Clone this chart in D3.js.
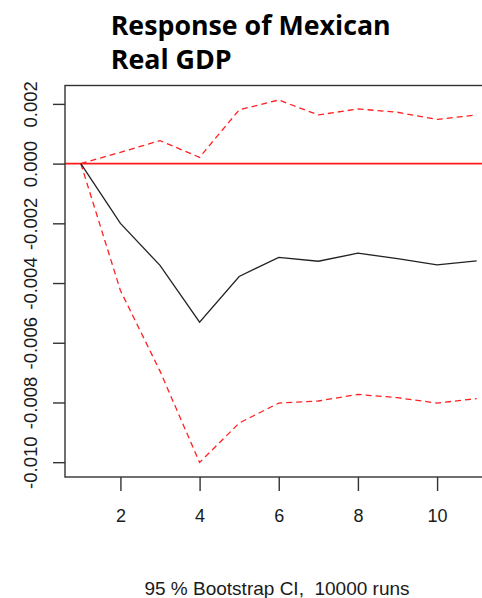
<!DOCTYPE html>
<html>
<head>
<meta charset="utf-8">
<script src="https://cdn.jsdelivr.net/npm/d3@7"></script>
<style>
  html, body { margin: 0; padding: 0; background: #fff; }
  svg { display: block; }
</style>
</head>
<body>
<div id="chart"></div>
<script>
// Impulse response horizon (periods)
const horizon = [1, 2, 3, 4, 5, 6, 7, 8, 9, 10, 11];
// Point estimate of the response
const response = [0, -0.00200, -0.00341, -0.00531, -0.00378, -0.00314, -0.00327, -0.00300, -0.00318, -0.00339, -0.00326];
// 95% bootstrap confidence bounds
const upperCI = [0, 0.00038, 0.00077, 0.00021, 0.00180, 0.00213, 0.00163, 0.00183, 0.00172, 0.00148, 0.00163];
const lowerCI = [0, -0.00425, -0.00695, -0.01001, -0.00869, -0.00802, -0.00795, -0.00773, -0.00784, -0.00802, -0.00787];
// Axis ticks
const xTicks = [2, 4, 6, 8, 10];
const yTicks = [0.002, 0.000, -0.002, -0.004, -0.006, -0.008, -0.010];

const titleLines = ["Response of Mexican", "Real GDP"];
const caption = "95 % Bootstrap CI,  10000 runs";

const W = 482, H = 598;
const svg = d3.select("#chart").append("svg")
  .attr("width", W).attr("height", H);

// Plot region (extends 4% beyond the data on each side)
const x = d3.scaleLinear().domain([0.6, 11.4]).range([65, 492.5]);
const y = d3.scaleLinear().domain([-0.010496, 0.002616]).range([477, 85.5]);

const plotLeft = x.range()[0], plotRight = x.range()[1];
const plotTop = y.range()[1], plotBottom = y.range()[0];

const axisColor = "#333";

// Zero reference line
svg.append("line")
  .attr("x1", plotLeft).attr("x2", plotRight)
  .attr("y1", y(0)).attr("y2", y(0))
  .attr("stroke", "#ff1a1a").attr("stroke-width", 1.6);

const line = d3.line().x((d, i) => x(horizon[i])).y(d => y(d));

// Confidence bounds
[upperCI, lowerCI].forEach(ci => {
  svg.append("path")
    .datum(ci)
    .attr("d", line)
    .attr("fill", "none")
    .attr("stroke", "#ff2020")
    .attr("stroke-width", 1.3)
    .attr("stroke-dasharray", "6,4");
});

// Point estimate
svg.append("path")
  .datum(response)
  .attr("d", line)
  .attr("fill", "none")
  .attr("stroke", "#222")
  .attr("stroke-width", 1.3);

// Plot frame
svg.append("rect")
  .attr("x", plotLeft).attr("y", plotTop)
  .attr("width", plotRight - plotLeft).attr("height", plotBottom - plotTop)
  .attr("fill", "none")
  .attr("stroke", axisColor).attr("stroke-width", 1.4);

const fmt = d => d3.format(".3f")(d).replace("\u2212", "-");

// Y axis
const gy = svg.append("g")
  .attr("transform", `translate(${plotLeft},0)`)
  .call(d3.axisLeft(y).tickValues(yTicks).tickFormat(fmt).tickSize(12).tickSizeOuter(0));
gy.select(".domain").remove();
gy.selectAll(".tick line").attr("stroke", axisColor).attr("stroke-width", 1.4);
gy.selectAll(".tick text")
  .attr("transform", "rotate(-90)")
  .attr("x", 0).attr("y", -28.3).attr("dy", 0)
  .attr("text-anchor", "middle")
  .attr("fill", "#1a1a1a")
  .style("font-family", "'Liberation Sans', Arial, sans-serif")
  .style("font-size", "18.5px");

// X axis
const gx = svg.append("g")
  .attr("transform", `translate(0,${plotBottom})`)
  .call(d3.axisBottom(x).tickValues(xTicks).tickFormat(d3.format("d")).tickSize(14).tickSizeOuter(0));
gx.select(".domain").remove();
gx.selectAll(".tick line").attr("stroke", axisColor).attr("stroke-width", 1.4);
gx.selectAll(".tick text")
  .attr("y", 521.5 - plotBottom).attr("dy", 0)
  .attr("fill", "#1a1a1a")
  .style("font-family", "'Liberation Sans', Arial, sans-serif")
  .style("font-size", "18px");

// Title
const titleWidths = [280, 121];
titleLines.forEach((t, i) => {
  svg.append("text")
    .attr("x", 110.7).attr("y", 35 + i * 34)
    .attr("textLength", titleWidths[i])
    .attr("lengthAdjust", "spacingAndGlyphs")
    .style("font-family", "'Open Sans', 'Noto Sans', sans-serif")
    .style("font-weight", 700)
    .style("font-size", "26.5px")
    .attr("fill", "#000")
    .text(t);
});

// Caption
svg.append("text")
  .attr("x", 277).attr("y", 595)
  .attr("text-anchor", "middle")
  .attr("fill", "#1a1a1a")
  .style("font-family", "'Liberation Sans', Arial, sans-serif")
  .style("font-size", "19px")
  .style("white-space", "pre")
  .attr("xml:space", "preserve")
  .text(caption);
</script>
</body>
</html>
